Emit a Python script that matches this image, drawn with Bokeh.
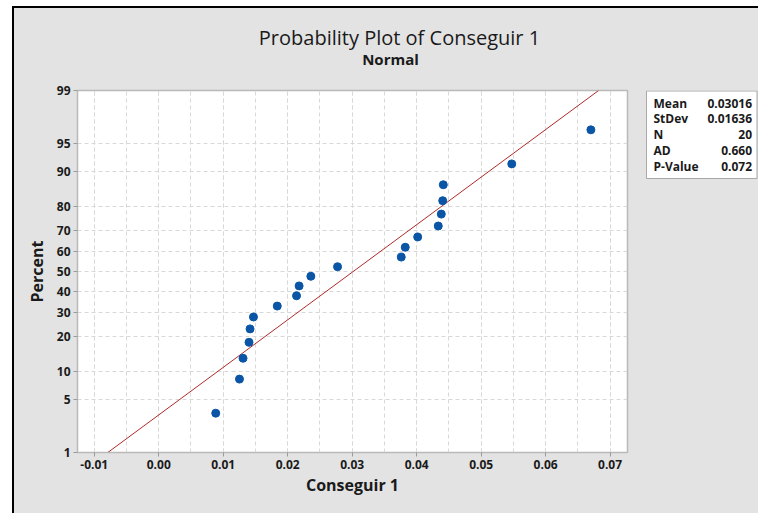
from statistics import NormalDist
from bokeh.plotting import figure
from bokeh.layouts import column, row
from bokeh.models import (FixedTicker, ColumnDataSource, NumeralTickFormatter,
                          Range1d)
from bokeh.core.properties import value
from bokeh.embed import file_html
from bokeh.resources import INLINE

# ---- data ----
conseguir = [0.00884, 0.01252, 0.01307, 0.01400, 0.01416, 0.01469, 0.01838,
             0.02137, 0.02177, 0.02359, 0.02773, 0.03761, 0.03823, 0.04016,
             0.04335, 0.04382, 0.04404, 0.04413, 0.05475, 0.06702]
percent = [3.43, 8.33, 13.24, 18.14, 23.04, 27.94, 32.84, 37.75, 42.65, 47.55,
           52.45, 57.35, 62.25, 67.16, 72.06, 76.96, 81.86, 86.76, 91.67, 96.57]
fit_mean = 0.03016
fit_stdev = 0.01636
percent_ticks = [1, 5, 10, 20, 30, 40, 50, 60, 70, 80, 90, 95, 99]
x_ticks = [-0.01, 0.00, 0.01, 0.02, 0.03, 0.04, 0.05, 0.06, 0.07]
x_minor = [-0.01, -0.005, 0.0, 0.005, 0.01, 0.015, 0.02, 0.025, 0.03, 0.035,
           0.04, 0.045, 0.05, 0.055, 0.06, 0.065, 0.07]
stat_names = ["Mean", "StDev", "N", "AD", "P-Value"]
stat_values = ["0.03016", "0.01636", "20", "0.660", "0.072"]
title_text = "Probability Plot of Conseguir 1"
subtitle_text = "Normal"

nd = NormalDist()
def z(p):
    return nd.inv_cdf(p / 100.0)

FONT = "Open Sans"
TXT = "#1a1a1a"
BG = "#e3e3e3"

# ---- title strip ----
TW, TH = 744, 70
tfig = figure(width=TW, height=TH, output_backend="svg", toolbar_location=None,
              x_range=Range1d(0, TW), y_range=Range1d(TH, 0),
              x_axis_type=None, y_axis_type=None,
              min_border_left=0, min_border_right=0, min_border_top=0,
              min_border_bottom=0)
tfig.border_fill_color = BG
tfig.background_fill_color = BG
tfig.outline_line_color = None
tfig.grid.visible = False
tfig.text(x=[385], y=[29], text=[title_text], text_align="center",
          text_baseline="middle", text_font=value(FONT),
          text_font_size="20px", text_color=TXT)
tfig.text(x=[376], y=[50], text=[subtitle_text], text_align="center",
          text_baseline="middle", text_font=value(FONT),
          text_font_size="15px", text_font_style="bold", text_color=TXT)

# ---- main probability plot ----
MB_TOP, MB_BOT, MH = 12, 61, 435
p = figure(width=626, height=MH, output_backend="svg", toolbar_location=None,
           x_range=Range1d(-0.0126, 0.0727),
           y_range=Range1d(z(percent_ticks[0]), z(percent_ticks[-1])),
           min_border_left=63, min_border_right=13,
           min_border_top=MB_TOP, min_border_bottom=MB_BOT)
p.background_fill_color = "white"
p.border_fill_color = BG
p.outline_line_color = "#b9b9b9"
p.outline_line_width = 1.5

p.xaxis.ticker = FixedTicker(ticks=x_ticks, minor_ticks=x_minor)
p.xaxis.formatter = NumeralTickFormatter(format="0.00")
p.yaxis.ticker = FixedTicker(ticks=[z(v) for v in percent_ticks])
p.yaxis.major_label_overrides = {z(v): str(v) for v in percent_ticks}
for ax in (p.xaxis, p.yaxis):
    ax.axis_line_color = "#b9b9b9"
    ax.major_tick_line_color = "#9a9a9a"
    ax.major_tick_in = 0
    ax.major_tick_out = 4
    ax.minor_tick_line_color = None
    ax.major_label_text_font = FONT
    ax.major_label_text_font_size = "12px"
    ax.major_label_text_font_style = "bold"
    ax.major_label_text_color = TXT
    ax.major_label_standoff = 3
    ax.axis_label_text_font = FONT
    ax.axis_label_text_font_size = "16px"
    ax.axis_label_text_font_style = "bold"
    ax.axis_label_text_color = TXT
p.xaxis.axis_label = "Conseguir 1"
p.yaxis.axis_label = "Percent"
p.xaxis.axis_label_standoff = 2
p.yaxis.axis_label_standoff = 6

for g in (p.xgrid, p.ygrid):
    g.grid_line_color = "#d8d8d8"
    g.grid_line_dash = "4 3"
    g.grid_line_width = 1
p.xgrid.minor_grid_line_color = "#d8d8d8"
p.xgrid.minor_grid_line_dash = "4 3"

zl, zh = z(percent_ticks[0]), z(percent_ticks[-1])
p.line([fit_mean + fit_stdev * zl, fit_mean + fit_stdev * zh], [zl, zh],
       line_color="#b02a2a", line_width=1)

src = ColumnDataSource(dict(x=conseguir, y=[z(v) for v in percent]))
p.scatter("x", "y", source=src, size=8, fill_color="#0a55a5",
          line_color="#0a55a5")

# ---- stats box (frame aligned with main frame; box drawn inside) ----
SW = 118
SFH = MH - MB_TOP - MB_BOT
s = figure(width=SW, height=MH, output_backend="svg", toolbar_location=None,
           x_range=Range1d(0, SW), y_range=Range1d(SFH, 0),
           x_axis_type=None, y_axis_type=None,
           min_border_left=0, min_border_right=0,
           min_border_top=MB_TOP, min_border_bottom=MB_BOT)
s.border_fill_color = BG
s.background_fill_color = BG
s.outline_line_color = None
s.grid.visible = False
bl, br, bt, bb = 6, 116.5, 0.5, 88
s.quad(left=[bl], right=[br], top=[bt], bottom=[bb], fill_color="white",
       line_color="#a8a8a8", line_width=1)
row_y = [bt + 12 + i * 15.8 for i in range(len(stat_names))]
ssrc = ColumnDataSource(dict(n=stat_names, v=stat_values, y=row_y,
                             xl=[bl + 7] * len(stat_names),
                             xr=[br - 5] * len(stat_names)))
s.text(x="xl", y="y", text="n", source=ssrc, text_font=value(FONT),
       text_font_size="12px", text_font_style="bold", text_color=TXT,
       text_baseline="middle", text_align="left")
s.text(x="xr", y="y", text="v", source=ssrc, text_font=value(FONT),
       text_font_size="12px", text_font_style="bold", text_color=TXT,
       text_baseline="middle", text_align="right")

inner = row(p, s, spacing=0)
inner.styles = {"background-color": BG}
layout = column(tfig, inner, spacing=0)
layout.styles = {"border-left": "2px solid black", "border-top": "2px solid black",
                 "margin-left": "12px", "margin-top": "6px",
                 "background-color": BG}

open("out.html", "w").write(file_html(layout, INLINE))
